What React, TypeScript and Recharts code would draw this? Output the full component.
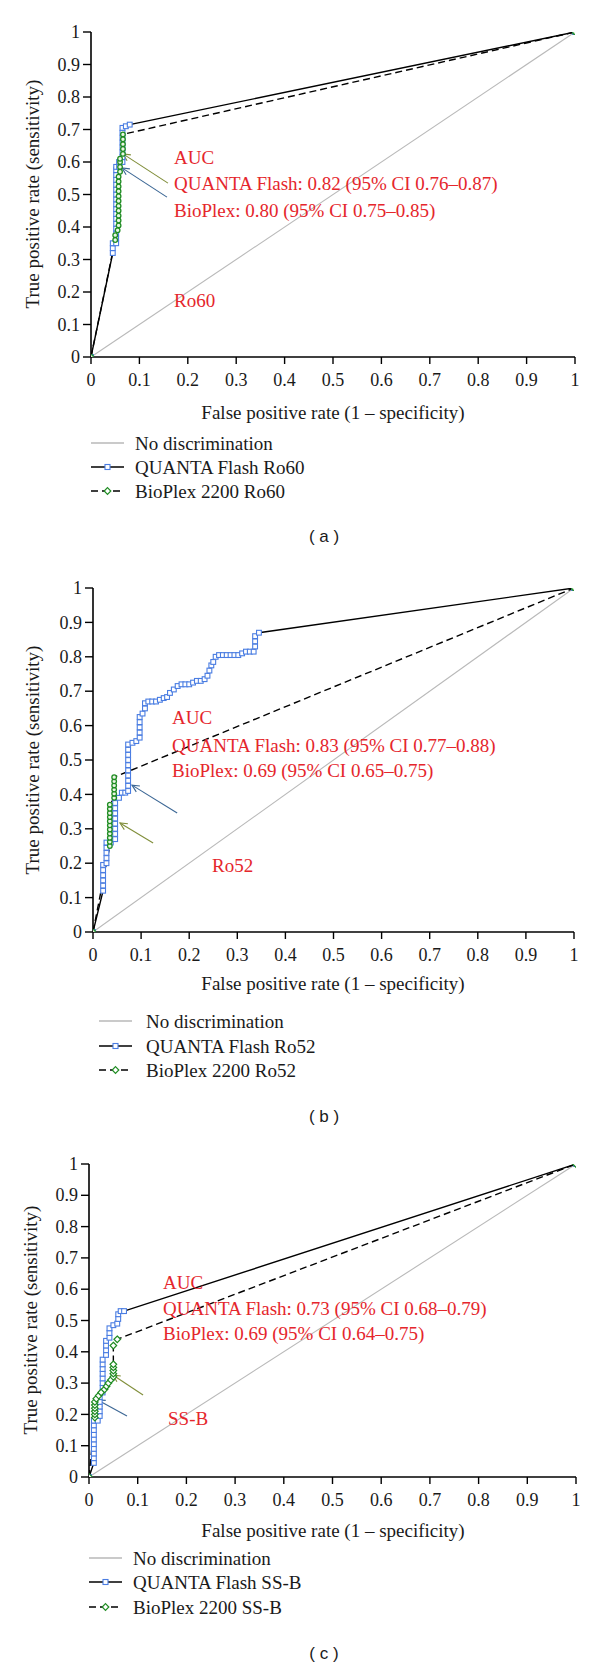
import React from 'react';
import { LineChart, Line, XAxis, YAxis, ReferenceLine } from 'recharts';

// axis ticks shared by all three ROC panels
const TICKS = [0, 0.1, 0.2, 0.3, 0.4, 0.5, 0.6, 0.7, 0.8, 0.9, 1];
const DIAGONAL = [[0, 0], [1, 1]];

// (a) Ro60
const RO60_QUANTA = [
  [0, 0], [0.045, 0.32], [0.045, 0.335], [0.045, 0.35],
  [0.052, 0.35], [0.052, 0.365], [0.052, 0.38], [0.052, 0.395], [0.052, 0.41], [0.052, 0.425],
  [0.052, 0.44], [0.052, 0.455], [0.052, 0.47], [0.052, 0.485], [0.052, 0.5], [0.052, 0.515],
  [0.052, 0.53], [0.052, 0.545], [0.052, 0.56], [0.052, 0.575], [0.052, 0.585],
  [0.058, 0.585], [0.058, 0.6],
  [0.065, 0.6], [0.065, 0.615], [0.065, 0.63], [0.065, 0.645], [0.065, 0.66], [0.065, 0.675],
  [0.065, 0.69], [0.065, 0.705], [0.072, 0.71], [0.08, 0.715], [1, 1],
];
const RO60_BIOPLEX = [
  [0, 0], [0.05, 0.36], [0.05, 0.375], [0.055, 0.39], [0.057, 0.405], [0.057, 0.42], [0.057, 0.435],
  [0.057, 0.45], [0.057, 0.465], [0.057, 0.48], [0.057, 0.495], [0.057, 0.51], [0.057, 0.525],
  [0.057, 0.54], [0.057, 0.555], [0.06, 0.57], [0.06, 0.585], [0.06, 0.6], [0.06, 0.61],
  [0.066, 0.625], [0.066, 0.64], [0.066, 0.655], [0.066, 0.67], [0.066, 0.685], [1, 1],
];

// (b) Ro52
const RO52_QUANTA = [
  [0, 0], [0.021, 0.12], [0.021, 0.135], [0.021, 0.15], [0.021, 0.165], [0.021, 0.18], [0.021, 0.195],
  [0.028, 0.2], [0.028, 0.215], [0.028, 0.23], [0.028, 0.245], [0.028, 0.26],
  [0.037, 0.26], [0.046, 0.27], [0.046, 0.285], [0.046, 0.3], [0.046, 0.315], [0.046, 0.33],
  [0.046, 0.345], [0.046, 0.36], [0.046, 0.375], [0.046, 0.39],
  [0.054, 0.39], [0.06, 0.405], [0.067, 0.405], [0.073, 0.41], [0.073, 0.425], [0.073, 0.44],
  [0.073, 0.455], [0.073, 0.47], [0.073, 0.485], [0.073, 0.5], [0.073, 0.515], [0.073, 0.53], [0.073, 0.545],
  [0.082, 0.55], [0.09, 0.555], [0.097, 0.565], [0.097, 0.58], [0.097, 0.595], [0.097, 0.61], [0.097, 0.625],
  [0.103, 0.635], [0.108, 0.65], [0.108, 0.665],
  [0.115, 0.67], [0.123, 0.67], [0.131, 0.67], [0.139, 0.675], [0.147, 0.68], [0.154, 0.683],
  [0.16, 0.695], [0.168, 0.705], [0.176, 0.715],
  [0.184, 0.72], [0.192, 0.72], [0.2, 0.72], [0.208, 0.725], [0.216, 0.73], [0.224, 0.73], [0.232, 0.735],
  [0.238, 0.745], [0.242, 0.76], [0.246, 0.775], [0.25, 0.785], [0.255, 0.8],
  [0.262, 0.805], [0.27, 0.805], [0.278, 0.805], [0.286, 0.805], [0.294, 0.805], [0.302, 0.805],
  [0.31, 0.81], [0.318, 0.815], [0.326, 0.815], [0.334, 0.815],
  [0.337, 0.83], [0.337, 0.845], [0.337, 0.86], [0.345, 0.87], [1, 1],
];
const RO52_BIOPLEX = [
  [0, 0], [0.035, 0.25], [0.035, 0.262], [0.035, 0.274], [0.035, 0.286], [0.035, 0.298], [0.035, 0.31],
  [0.035, 0.322], [0.035, 0.334], [0.035, 0.346], [0.035, 0.358], [0.035, 0.37],
  [0.044, 0.39], [0.044, 0.402], [0.044, 0.414], [0.044, 0.426], [0.044, 0.438], [0.044, 0.45], [1, 1],
];

// (c) SS-B
const SSB_QUANTA = [
  [0, 0], [0.01, 0.045], [0.01, 0.06], [0.01, 0.075], [0.01, 0.09], [0.01, 0.105], [0.01, 0.12],
  [0.01, 0.135], [0.01, 0.15], [0.01, 0.165], [0.01, 0.18],
  [0.018, 0.18], [0.022, 0.195], [0.022, 0.21], [0.022, 0.225], [0.022, 0.24], [0.022, 0.255],
  [0.028, 0.27], [0.028, 0.285], [0.028, 0.3], [0.028, 0.315], [0.028, 0.33], [0.028, 0.345],
  [0.028, 0.36], [0.028, 0.375],
  [0.035, 0.39], [0.035, 0.405], [0.035, 0.42], [0.035, 0.435],
  [0.042, 0.445], [0.042, 0.46], [0.042, 0.475],
  [0.05, 0.485], [0.058, 0.49], [0.06, 0.505], [0.06, 0.52], [0.065, 0.53], [0.072, 0.53], [1, 1],
];
const SSB_BIOPLEX = [
  [0, 0], [0.012, 0.19], [0.012, 0.2], [0.012, 0.21], [0.012, 0.22], [0.012, 0.23], [0.012, 0.24],
  [0.015, 0.25], [0.02, 0.26], [0.025, 0.27], [0.032, 0.28], [0.036, 0.29], [0.04, 0.3], [0.045, 0.31],
  [0.05, 0.32], [0.05, 0.33], [0.05, 0.34], [0.05, 0.35], [0.05, 0.36], [0.05, 0.42], [0.058, 0.44], [1, 1],
];

const AUC_A = ['AUC', 'QUANTA Flash: 0.82 (95% CI 0.76–0.87)', 'BioPlex: 0.80 (95% CI 0.75–0.85)'];
const AUC_B = ['AUC', 'QUANTA Flash: 0.83 (95% CI 0.77–0.88)', 'BioPlex: 0.69 (95% CI 0.65–0.75)'];
const AUC_C = ['AUC', 'QUANTA Flash: 0.73 (95% CI 0.68–0.79)', 'BioPlex: 0.69 (95% CI 0.64–0.75)'];

const LEGEND_A = ['No discrimination', 'QUANTA Flash Ro60', 'BioPlex 2200 Ro60'];
const LEGEND_B = ['No discrimination', 'QUANTA Flash Ro52', 'BioPlex 2200 Ro52'];
const LEGEND_C = ['No discrimination', 'QUANTA Flash SS-B', 'BioPlex 2200 SS-B'];

// arrows: [fromX, fromY, toX, toY] in data units
const ARROWS_A = [[0.159, 0.535, 0.066, 0.625], [0.157, 0.492, 0.064, 0.582]];
const ARROWS_B = [[0.175, 0.346, 0.081, 0.427], [0.125, 0.259, 0.056, 0.317]];
const ARROWS_C = [[0.111, 0.262, 0.049, 0.326], [0.078, 0.195, 0.018, 0.246]];

const SERIF = "'Liberation Serif', 'DejaVu Serif', serif";
const SANS = "'Liberation Sans', Arial, sans-serif";
const RED = '#e5262c';
const BLUE_MARK = '#4a7de2';
const GREEN_MARK = '#1f8c22';
const ARROW_GREEN = '#808e3a';
const ARROW_BLUE = '#3c6795';
const TICK_FONT = 18;
const TEXT_FONT = 19;

const toPts = (arr: number[][]) => arr.map(([x, y]) => ({ x, y }));
const fmt = (v: number) => String(v);

const XTick = (props: any) => {
  const { x, y, payload } = props;
  return (
    <text x={x} y={y} dy="0.78em" textAnchor="middle" fill="#1a1a1a"
      style={{ fontSize: TICK_FONT, fontFamily: SERIF }}>
      {fmt(payload.value)}
    </text>
  );
};

const YTick = (props: any) => {
  const { x, y, payload } = props;
  return (
    <text x={x} y={y} dy="0.34em" textAnchor="end" fill="#1a1a1a"
      style={{ fontSize: TICK_FONT, fontFamily: SERIF }}>
      {fmt(payload.value)}
    </text>
  );
};

const squareDot = (props: any) => {
  const { cx, cy, index } = props;
  if (cx == null || cy == null) return <g key={`s${index}`} />;
  return (
    <rect key={`s${index}`} x={cx - 2.4} y={cy - 2.4} width={4.8} height={4.8}
      fill="#fff" stroke={BLUE_MARK} strokeWidth={1.1} />
  );
};

const circleDot = (props: any) => {
  const { cx, cy, index } = props;
  if (cx == null || cy == null) return <g key={`c${index}`} />;
  return <circle key={`c${index}`} cx={cx} cy={cy} r={2.3} fill="#e9f6e4" stroke={GREEN_MARK} strokeWidth={1.3} />;
};

const diamondDot = (props: any) => {
  const { cx, cy, index } = props;
  if (cx == null || cy == null) return <g key={`d${index}`} />;
  const r = 3.3;
  return (
    <path key={`d${index}`} d={`M${cx},${cy - r}L${cx + r},${cy}L${cx},${cy + r}L${cx - r},${cy}Z`}
      fill="#fff" stroke={GREEN_MARK} strokeWidth={1.2} />
  );
};

const arrowShape = (color: string) => (props: any) => {
  const { x1, y1, x2, y2 } = props;
  const ang = Math.atan2(y2 - y1, x2 - x1);
  const len = 8;
  const spread = 0.45;
  const ax = x2 - len * Math.cos(ang - spread);
  const ay = y2 - len * Math.sin(ang - spread);
  const bx = x2 - len * Math.cos(ang + spread);
  const by = y2 - len * Math.sin(ang + spread);
  return (
    <g>
      <line x1={x1} y1={y1} x2={x2} y2={y2} stroke={color} strokeWidth={1.1} />
      <polyline points={`${ax},${ay} ${x2},${y2} ${bx},${by}`} fill="none" stroke={color} strokeWidth={1.1} />
    </g>
  );
};

type PanelProps = {
  top: number;
  height: number;
  plotLeft: number;
  plotRight: number;
  plotTop: number;
  plotBottom: number;
  quanta: number[][];
  bioplex: number[][];
  diamond: boolean;
  arrows: number[][];
  arrowColors: string[];
};

function RocChart(p: PanelProps) {
  return (
    <div style={{ position: 'absolute', left: 0, top: p.top }}>
      <LineChart
        width={600}
        height={p.height}
        style={{ fontFamily: SERIF }}
        margin={{ top: p.plotTop, right: 600 - p.plotRight, bottom: p.height - p.plotBottom - 30, left: 0 }}
      >
        <XAxis type="number" dataKey="x" domain={[0, 1]} ticks={TICKS} interval={0}
          allowDataOverflow height={30} tick={XTick} tickSize={7} tickMargin={8}
          axisLine={{ stroke: '#000', strokeWidth: 1.6 }} tickLine={{ stroke: '#000', strokeWidth: 1.4 }} />
        <YAxis type="number" dataKey="y" domain={[0, 1]} ticks={TICKS} interval={0}
          allowDataOverflow width={p.plotLeft} tick={YTick} tickSize={8} tickMargin={3}
          axisLine={{ stroke: '#000', strokeWidth: 1.6 }} tickLine={{ stroke: '#000', strokeWidth: 1.4 }} />
        <Line data={toPts(DIAGONAL)} dataKey="y" type="linear" stroke="#b9b9b9" strokeWidth={1.1}
          dot={false} isAnimationActive={false} />
        {p.arrows.map((a, i) => (
          <ReferenceLine key={`arr${i}`} segment={[{ x: a[0], y: a[1] }, { x: a[2], y: a[3] }]}
            stroke={p.arrowColors[i]} shape={arrowShape(p.arrowColors[i])} />
        ))}
        <Line data={toPts(p.quanta)} dataKey="y" type="linear" stroke="#000" strokeWidth={1.4}
          dot={squareDot} isAnimationActive={false} />
        <Line data={toPts(p.bioplex)} dataKey="y" type="linear" stroke="#000" strokeWidth={1.4}
          strokeDasharray="7 4" dot={p.diamond ? diamondDot : circleDot} isAnimationActive={false} />
      </LineChart>
    </div>
  );
}

const Txt = ({ x, y, children, color = '#1a1a1a', size = TEXT_FONT, center = false, family = SERIF }: any) => (
  <div style={{
    position: 'absolute', left: x, top: y, transform: center ? 'translate(-50%, -50%)' : 'translateY(-50%)',
    whiteSpace: 'nowrap', fontSize: size, lineHeight: 1, color, fontFamily: family,
  }}>{children}</div>
);

const YTitle = ({ x, y }: any) => (
  <div style={{
    position: 'absolute', left: x, top: y, transform: 'translate(-50%, -50%) rotate(-90deg)',
    whiteSpace: 'nowrap', fontSize: TEXT_FONT, lineHeight: 1, color: '#1a1a1a', fontFamily: SERIF,
  }}>True positive rate (sensitivity)</div>
);

const LegendIcon = ({ kind }: { kind: number }) => (
  <svg width={34} height={12} style={{ display: 'block' }}>
    {kind === 0 && <line x1={0} y1={6} x2={33} y2={6} stroke="#b9b9b9" strokeWidth={1.3} />}
    {kind === 1 && (
      <g>
        <line x1={0} y1={6} x2={33} y2={6} stroke="#000" strokeWidth={1.5} />
        <rect x={14} y={3.5} width={5} height={5} fill="#fff" stroke={BLUE_MARK} strokeWidth={1.1} />
      </g>
    )}
    {kind === 2 && (
      <g>
        <line x1={0} y1={6} x2={33} y2={6} stroke="#000" strokeWidth={1.5} strokeDasharray="7 4" />
        <path d="M16.5,2.7L19.8,6L16.5,9.3L13.2,6Z" fill="#fff" stroke={GREEN_MARK} strokeWidth={1.2} />
      </g>
    )}
  </svg>
);

const LegendBlock = ({ x, textX, rows, names }: any) => (
  <>
    {names.map((n: string, i: number) => (
      <div key={n} style={{ position: 'absolute', left: x, top: rows[i], transform: 'translateY(-50%)' }}>
        <LegendIcon kind={i} />
      </div>
    ))}
    {names.map((n: string, i: number) => (
      <Txt key={`t${n}`} x={textX} y={rows[i]}>{n}</Txt>
    ))}
  </>
);

const AucBlock = ({ x, rows, lines }: any) => (
  <>
    {lines.map((l: string, i: number) => (
      <Txt key={l} x={x} y={rows[i]} color={RED}>{l}</Txt>
    ))}
  </>
);

export default function App() {
  return (
    <div style={{ position: 'absolute', left: 0, top: 0, width: 600, height: 1669, background: '#fff' }}>
      {/* (a) */}
      <RocChart top={0} height={400} plotLeft={91} plotRight={575} plotTop={32} plotBottom={357}
        quanta={RO60_QUANTA} bioplex={RO60_BIOPLEX} diamond={false} arrows={ARROWS_A}
        arrowColors={[ARROW_GREEN, ARROW_BLUE]} />
      <YTitle x={32} y={194} />
      <Txt x={333} y={412} center>False positive rate (1 – specificity)</Txt>
      <AucBlock x={174} rows={[157, 183, 210]} lines={AUC_A} />
      <Txt x={174} y={300} color={RED}>Ro60</Txt>
      <LegendBlock x={91} textX={135} rows={[443, 467, 491]} names={LEGEND_A} />
      <Txt x={324} y={536} center size={17} family={SANS}>( a )</Txt>

      {/* (b) */}
      <RocChart top={560} height={410} plotLeft={93} plotRight={574} plotTop={28} plotBottom={372}
        quanta={RO52_QUANTA} bioplex={RO52_BIOPLEX} diamond={false} arrows={ARROWS_B}
        arrowColors={[ARROW_BLUE, ARROW_GREEN]} />
      <YTitle x={32} y={760} />
      <Txt x={333} y={983} center>False positive rate (1 – specificity)</Txt>
      <AucBlock x={172} rows={[717, 745, 770]} lines={AUC_B} />
      <Txt x={212} y={865} color={RED}>Ro52</Txt>
      <LegendBlock x={99} textX={146} rows={[1021, 1046, 1070]} names={LEGEND_B} />
      <Txt x={324} y={1116} center size={17} family={SANS}>( b )</Txt>

      {/* (c) */}
      <RocChart top={1140} height={375} plotLeft={89} plotRight={576} plotTop={24} plotBottom={337}
        quanta={SSB_QUANTA} bioplex={SSB_BIOPLEX} diamond arrows={ARROWS_C}
        arrowColors={[ARROW_GREEN, ARROW_BLUE]} />
      <YTitle x={30} y={1320} />
      <Txt x={333} y={1530} center>False positive rate (1 – specificity)</Txt>
      <AucBlock x={163} rows={[1282, 1308, 1333]} lines={AUC_C} />
      <Txt x={168} y={1418} color={RED}>SS-B</Txt>
      <LegendBlock x={89} textX={133} rows={[1558, 1582, 1607]} names={LEGEND_C} />
      <Txt x={324} y={1653} center size={17} family={SANS}>( c )</Txt>
    </div>
  );
}
